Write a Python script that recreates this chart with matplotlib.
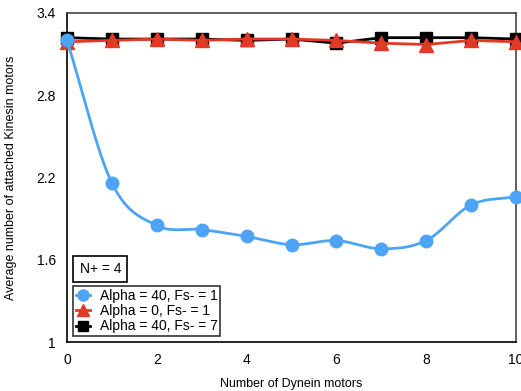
import numpy as np
import matplotlib.pyplot as plt

plt.rcParams['font.family'] = ['Liberation Sans', 'DejaVu Sans']

dynein = [0, 1, 2, 3, 4, 5, 6, 7, 8, 9, 10]
alpha40_fs1 = [3.20, 2.16, 1.85, 1.82, 1.77, 1.71, 1.74, 1.68, 1.74, 2.00, 2.06]
alpha0_fs1 = [3.19, 3.20, 3.21, 3.20, 3.21, 3.21, 3.20, 3.18, 3.17, 3.20, 3.19]
alpha40_fs7 = [3.22, 3.21, 3.21, 3.21, 3.20, 3.21, 3.18, 3.22, 3.22, 3.22, 3.21]
yticks = [1, 1.6, 2.2, 2.8, 3.4]
labels = ['Alpha = 40, Fs- = 1', 'Alpha = 0, Fs- = 1', 'Alpha = 40, Fs- = 7']


def smooth(x, y, n=20):
    # catmull-rom style curve through the points
    x = np.asarray(x, float)
    y = np.asarray(y, float)
    px = np.concatenate([[2 * x[0] - x[1]], x, [2 * x[-1] - x[-2]]])
    py = np.concatenate([[2 * y[0] - y[1]], y, [2 * y[-1] - y[-2]]])
    xs, ys = [], []
    t = np.linspace(0, 1, n, endpoint=False)
    for i in range(1, len(px) - 2):
        for p, out in ((px, xs), (py, ys)):
            p0, p1, p2, p3 = p[i - 1], p[i], p[i + 1], p[i + 2]
            out.extend(0.5 * (2 * p1 + (-p0 + p2) * t + (2 * p0 - 5 * p1 + 4 * p2 - p3) * t ** 2
                              + (-p0 + 3 * p1 - 3 * p2 + p3) * t ** 3))
    xs.append(x[-1])
    ys.append(y[-1])
    return xs, ys


fig = plt.figure(figsize=(5.21, 3.91), dpi=100)
ax = fig.add_axes([67 / 521, 49 / 391, 449 / 521, 329 / 391])

blue = '#4da3f5'
red = '#e03a26'

ax.plot(dynein, alpha40_fs7, color='black', lw=2, marker='s', ms=9, clip_on=False, zorder=3)
ax.plot(dynein, alpha0_fs1, color=red, lw=2, marker='^', ms=10, clip_on=False, zorder=4)
sx, sy = smooth(dynein, alpha40_fs1)
ax.plot(sx, sy, color=blue, lw=2, clip_on=False, zorder=5)
ax.plot(dynein, alpha40_fs1, ls='none', color=blue, marker='o', ms=9, clip_on=False, zorder=6)

# legend handles
h1, = ax.plot([], [], color=blue, lw=2, marker='o', ms=8)
h2, = ax.plot([], [], color=red, lw=2, marker='^', ms=8)
h3, = ax.plot([], [], color='black', lw=2, marker='s', ms=7)
leg = ax.legend([h1, h2, h3], labels, loc='lower left', bbox_to_anchor=(0.005, 0.005),
                fontsize=10, frameon=True, fancybox=False, edgecolor='black',
                handlelength=1.0, handletextpad=0.7, labelspacing=0.08,
                borderpad=0.2, borderaxespad=0.3)
leg.get_frame().set_linewidth(1.2)

ax.text(0.028, 0.2, 'N+ = 4', transform=ax.transAxes, fontsize=10, va='bottom', ha='left',
        bbox=dict(boxstyle='square,pad=0.45', fc='white', ec='black', lw=1.2))

ax.set_xlim(0, 10)
ax.set_ylim(1, 3.4)
ax.set_xticks([0, 2, 4, 6, 8, 10])
ax.set_yticks(yticks)
ax.set_yticklabels(['1', '1.6', '2.2', '2.8', '3.4'])
ax.tick_params(length=0, labelsize=10, pad=8)
for s in ax.spines.values():
    s.set_linewidth(1.2)
ax.spines['top'].set_color('#444444')
ax.spines['right'].set_color('#444444')

ax.set_xlabel('Number of Dynein motors', fontsize=9, labelpad=8)
ax.set_ylabel('Average number of attached Kinesin motors', fontsize=9, labelpad=14)

fig.savefig('out.png', dpi=100)
